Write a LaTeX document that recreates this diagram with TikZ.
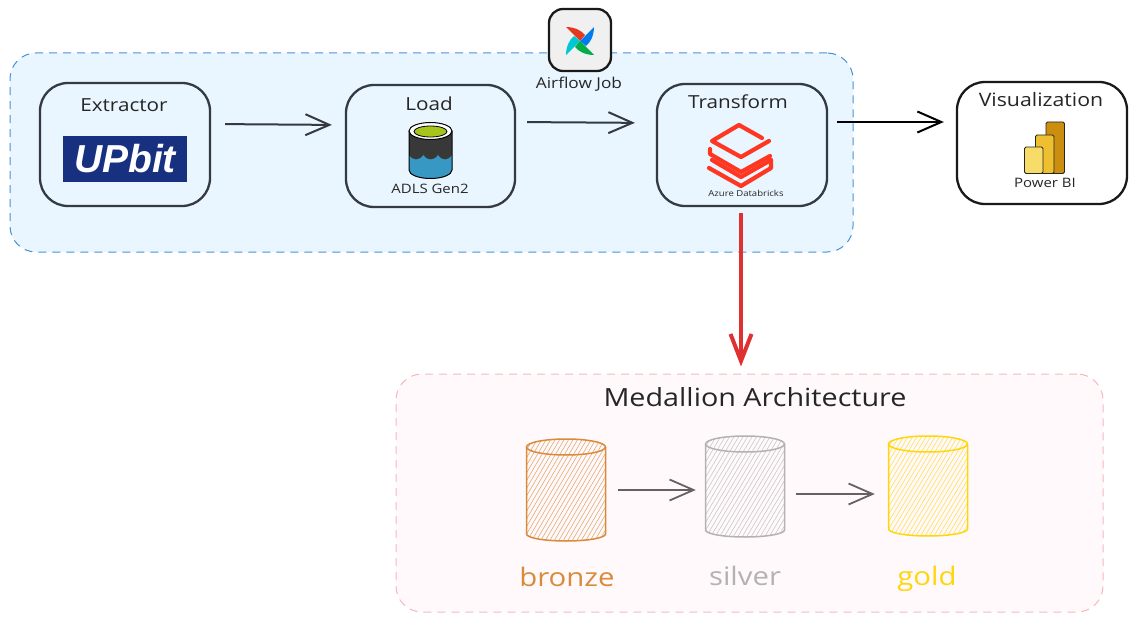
\documentclass[tikz,border=0pt]{standalone}
\usepackage{fontspec}
\setmainfont{Open Sans}[FakeStretch=1.15]
\newfontfamily\upf{Liberation Sans}
\usetikzlibrary{arrows.meta}
\definecolor{bluefill}{HTML}{E9F6FF}
\definecolor{bluedash}{HTML}{4A90D9}
\definecolor{pinkfill}{HTML}{FFF9FB}
\definecolor{pinkdash}{HTML}{F6B8BC}
\definecolor{boxline}{HTML}{343A40}
\definecolor{upbit}{HTML}{17307F}
\definecolor{dbred}{HTML}{FF3621}
\definecolor{redarr}{HTML}{E03131}
\definecolor{bronzec}{HTML}{D98A3A}
\definecolor{silverc}{HTML}{B4B2B0}
\definecolor{goldc}{HTML}{FFD60A}
\definecolor{arrgrey}{HTML}{666262}
\definecolor{adlsblue}{HTML}{3898C4}
\definecolor{adlsgreen}{HTML}{A6C51C}
\definecolor{pbidark}{HTML}{CC8E0E}
\definecolor{pbimid}{HTML}{EEC030}
\definecolor{pbilight}{HTML}{F8DC69}
\tikzset{
  region/.style={draw,dash pattern=on 8pt off 6pt,line width=1pt,rounded corners=26pt,minimum width=#1,inner sep=0pt},
  stage/.style={draw=boxline,line width=2.3pt,rounded corners=28pt,inner sep=0pt},
  arr/.style={-{Straight Barb[length=24pt,width=21pt]},line width=2pt,color=boxline},
  medarr/.style={-{Straight Barb[length=24pt,width=21pt]},line width=1.8pt,color=arrgrey},
  cylarea/.style={inner sep=0pt,minimum width=80pt,minimum height=101pt},
  lbl/.style={inner sep=0pt,text=#1},
  lbl/.default=black!85
}
\newcommand{\fsz}[1]{\fontsize{#1}{#1}\selectfont}
% cx, top, bottom, colour
\newcommand{\medcyl}[4]{%
  \begin{scope}
    \clip (#1-39,#2+8) arc[start angle=180,end angle=360,x radius=39,y radius=8,delta angle=-180] -- (#1+39,#3-7)
      arc[start angle=0,end angle=180,x radius=39,y radius=7] -- cycle;
    \foreach \i in {-72,-67.5,...,72} \draw[#4!75,line width=0.55pt] (#1+\i-30,#3) -- (#1+\i+30,#2);
  \end{scope}
  \draw[#4,line width=1.5pt] (#1,#2+8) ellipse[x radius=39.5,y radius=8];
  \draw[#4,line width=1.5pt] (#1-39.5,#2+8) -- (#1-39.5,#3-7) arc[start angle=180,end angle=0,x radius=39.5,y radius=7] -- (#1+39.5,#2+8);
}
\begin{document}
\begin{tikzpicture}[x=1pt,y=-1pt]
\useasboundingbox (0,0) rectangle (1136,623);
% regions
\node[region=843pt,draw=bluedash,fill=bluefill,minimum height=199pt] (blue) at (431.5,152.5) {};
\node[region=707pt,draw=pinkdash,fill=pinkfill,minimum height=238pt] (pink) at (749.5,493) {};
% stage boxes
\node[stage,minimum width=170pt,minimum height=123pt] (ext) at (125,144.5) {};
\node[stage,minimum width=169pt,minimum height=122pt] (load) at (430.5,146) {};
\node[stage,minimum width=170pt,minimum height=122pt] (trans) at (742,145) {};
\node[stage,draw=black!90,fill=white,minimum width=170pt,minimum height=122pt] (viz) at (1042,143) {};
\node[stage,draw=black!90,fill=black!6,rounded corners=14pt,minimum width=62pt,minimum height=62pt] (air) at (580,40) {};
% labels
\node[lbl] (extl) at (124,105) {\fsz{18}Extractor};
\node[lbl] (loadl) at (429,104) {\fsz{18}Load};
\node[lbl] (transl) at (738,102) {\fsz{18}Transform};
\node[lbl] (vizl) at (1041,100) {\fsz{18.5}Visualization};
\node[lbl] (adls) at (430,189) {\fsz{13}ADLS Gen2};
\node[lbl] (azure) at (746,193) {\fsz{8.3}Azure Databricks};
\node[lbl] (pbi) at (1045,183) {\fsz{13}Power BI};
\node[lbl] (airl) at (579,84) {\fsz{15}Airflow Job};
\node[lbl] (medl) at (755,397) {\fsz{25}Medallion Architecture};
\node[lbl=bronzec] (brl) at (567,577) {\fsz{25.5}bronze};
\node[lbl=silverc] (sil) at (745,576) {\fsz{25.5}silver};
\node[lbl=goldc] (gol) at (927,579) {\fsz{25.5}gold};
% UPbit logo
\node[fill=upbit,text=white,inner sep=0pt,minimum width=124pt,minimum height=46pt] (upb) at (125,159)
  {\upf\bfseries\itshape\fsz{39}UPbit};
% ADLS icon
\fill[black!78] (409,131) rectangle (452,170);
\fill[adlsblue] (409,155)
    .. controls (413,161) and (419,161) .. (423.5,155)
    .. controls (427,161) and (434,161) .. (438,155)
    .. controls (442,161) and (448,161) .. (452,155)
    -- (452,170) arc[start angle=0,end angle=180,x radius=21.5,y radius=8.5] -- cycle;
\draw[black,line width=1pt] (409,131) -- (409,170) arc[start angle=180,end angle=0,x radius=21.5,y radius=8.5] -- (452,131);
\draw[black,line width=1pt,fill=white] (430.5,131) ellipse[x radius=21.5,y radius=8.5];
\draw[black,line width=0.8pt,fill=adlsgreen] (430.5,131.5) ellipse[x radius=16.5,y radius=5.5];
% Databricks icon
\begin{scope}[dbred,line width=4.2pt,line join=round,line cap=round]
  \draw (762,138) -- (739,125) -- (712,141) -- (741,157) -- (769,141);
  \draw (710,149) -- (710,154) -- (741,172) -- (770,156);
  \draw (771,160) -- (741,177) -- (712,160);
  \draw (709,168) -- (741,186) -- (771,168) -- (771,160);
\end{scope}
% Power BI icon
\draw[black!85,fill=pbidark,line width=0.9pt,rounded corners=1.5pt] (1046,122) rectangle (1064.5,173.5);
\draw[black!85,fill=pbimid,line width=0.9pt,rounded corners=1.5pt] (1035.5,135) rectangle (1054,173.5);
\draw[black!85,fill=pbilight,line width=0.9pt,rounded corners=1.5pt] (1024.5,147) rectangle (1043,173.5);
% Airflow pinwheel
\begin{scope}[shift={(580,41)}]
  \foreach \r/\c in {0/E43921,90/00C7D4,180/00AD46,270/017CEE}{
    \definecolor{blade}{HTML}{\c}
    \fill[blade,rotate=\r] (0,0) -- (-14,-14) .. controls (-5,-14) and (2,-10) .. (5,-6) -- cycle;
  }
\end{scope}
% cylinders
\node[cylarea] (bronze) at (566,490) {};
\node[cylarea] (silver) at (745,486.5) {};
\node[cylarea] (gold) at (928,486) {};
\medcyl{566}{439}{541}{bronzec}
\medcyl{745}{436}{537}{silverc}
\medcyl{928}{436}{536}{goldc}
% connectors
\draw[arr,shorten <=14pt,shorten >=13pt] ([yshift=20.5pt]ext.east) -- ([yshift=21pt]load.west);
\draw[arr,shorten <=11pt,shorten >=21pt] ([yshift=24pt]load.east) -- ([yshift=22pt]trans.west);
\draw[arr,color=black,shorten <=9pt,shorten >=12pt] ([yshift=23pt]trans.east) -- ([yshift=21pt]viz.west);
\draw[-{Straight Barb[length=27pt,width=21pt]},redarr,line width=4pt,shorten <=6pt,shorten >=7pt] ([xshift=-1pt]trans.south) -- ([xshift=-1pt]trans.south |- pink.north);
\draw[medarr,shorten <=12pt,shorten >=9pt] (bronze.east) -- (bronze.east -| silver.west);
\draw[medarr,shorten <=11pt,shorten >=13pt] ([yshift=-7.5pt]silver.east) -- ([yshift=-7.5pt]silver.east -| gold.west);
\end{tikzpicture}
\end{document}
